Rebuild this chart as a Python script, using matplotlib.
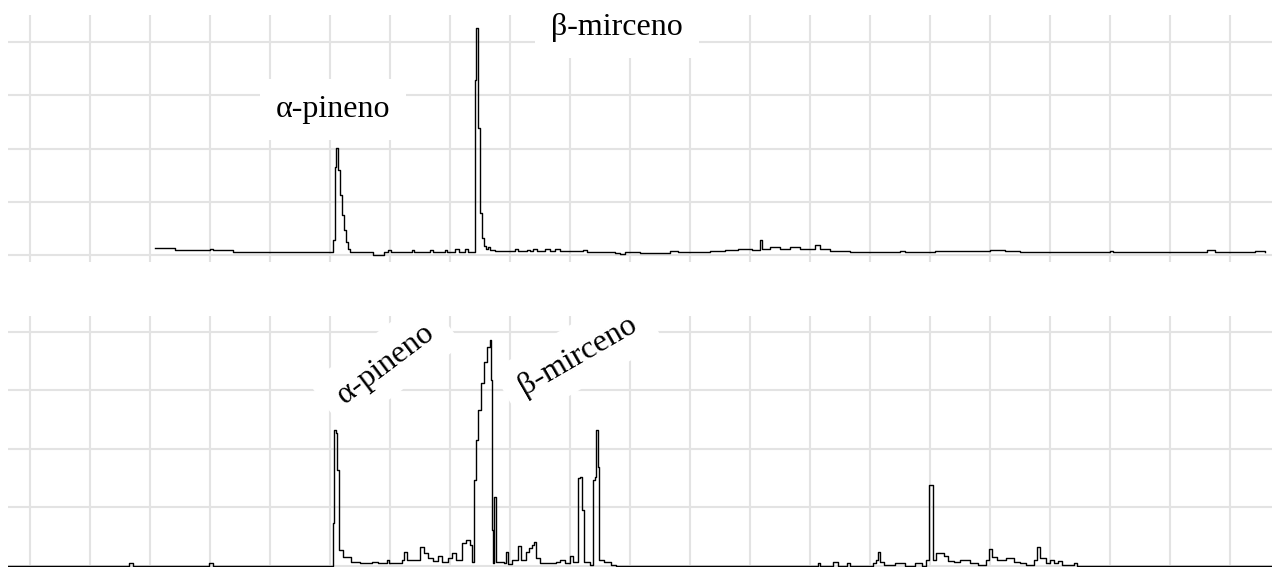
import matplotlib.pyplot as plt

# retention time (min) and intensity (arbitrary units, % of grid)
tiempo_sup = [2.08, 2.42, 3.00, 3.05, 3.38, 5.02, 5.05, 5.08, 5.10, 5.13, 5.17, 5.20,
              5.23, 5.27, 5.30, 5.33, 5.72, 5.90, 5.97, 6.02, 6.37, 6.40, 6.67, 6.72,
              6.92, 6.95, 7.08, 7.15, 7.25, 7.30, 7.38, 7.41, 7.44, 7.47, 7.50, 7.53,
              7.57, 7.60, 7.63, 7.67, 7.75, 8.08, 8.13, 8.28, 8.33, 8.38, 8.45, 8.58,
              8.67, 8.75, 8.83, 9.22, 9.28, 9.67, 9.75, 9.83, 9.92, 10.17, 10.67, 10.80,
              11.33, 11.58, 11.80, 12.03, 12.17, 12.20, 12.33, 12.50, 12.67, 12.83, 13.08,
              13.17, 13.33, 13.67, 14.50, 14.58, 15.08, 16.00, 16.25, 16.50, 18.00, 18.05,
              19.62, 19.75, 20.42, 20.58]
intensidad_sup = [3.3, 2.3, 2.8, 2.3, 1.4, 1.4, 7.0, 41.3, 50.2, 39.9, 28.2, 18.8,
                  11.7, 6.1, 2.8, 1.4, 0.0, 1.4, 2.3, 1.4, 2.3, 1.4, 2.3, 1.4,
                  2.3, 1.4, 2.8, 1.4, 2.8, 1.4, 1.4, 82.2, 106.6, 59.6, 19.7, 8.0,
                  4.2, 2.8, 3.8, 2.3, 1.9, 2.8, 1.9, 2.3, 1.9, 2.8, 1.9, 2.8,
                  1.9, 2.8, 1.9, 2.3, 1.4, 1.4, 0.9, 0.5, 1.4, 0.9, 1.9, 1.4,
                  1.9, 2.3, 2.8, 2.3, 7.0, 2.8, 3.8, 2.8, 3.8, 2.8, 4.7,
                  2.8, 1.9, 1.4, 1.9, 1.4, 1.9, 2.3, 1.9, 1.4, 1.9, 1.4,
                  2.3, 1.4, 1.9, 1.4]

tiempo_inf = [-0.37, 1.65, 1.72, 2.98, 3.05, 5.03, 5.05, 5.07, 5.10, 5.12, 5.15, 5.22,
              5.35, 5.50, 5.70, 5.80, 5.95, 5.98, 6.20, 6.23, 6.28, 6.50, 6.57, 6.63,
              6.72, 6.80, 6.87, 6.97, 7.03, 7.10, 7.20, 7.27, 7.33, 7.37, 7.40, 7.43,
              7.47, 7.52, 7.57, 7.62, 7.67, 7.69, 7.70, 7.72, 7.74, 7.77, 7.90, 7.93,
              7.97, 8.03, 8.13, 8.18, 8.27, 8.32, 8.37, 8.40, 8.43, 8.50, 8.77, 8.83,
              8.92, 9.00, 9.05, 9.13, 9.17, 9.20, 9.23, 9.33, 9.38, 9.42, 9.43, 9.47,
              9.48, 9.57, 9.68, 9.77, 13.13, 13.17, 13.38, 13.47, 13.62, 13.67, 14.05,
              14.10, 14.13, 14.17, 14.23, 14.42, 14.58, 14.75, 14.87, 14.93, 14.98, 15.05,
              15.10, 15.23, 15.30, 15.40, 15.50, 15.67, 15.80, 15.93, 15.98, 16.03, 16.12,
              16.27, 16.40, 16.50, 16.60, 16.73, 16.78, 16.83, 16.93, 17.00, 17.07, 17.13,
              17.20, 17.40, 17.45, 20.70]
intensidad_inf = [0.2, 1.3, 0.2, 1.3, 0.2, 0.2, 18.4, 58.1, 56.8, 41.0, 6.8, 3.8,
                  1.7, 1.3, 1.7, 1.3, 2.6, 1.3, 2.6, 6.0, 2.6, 8.1, 5.6, 3.4,
                  2.1, 4.3, 1.7, 3.4, 5.6, 2.6, 9.8, 11.1, 9.0, 1.7, 36.8, 53.9,
                  66.7, 78.2, 87.2, 93.6, 96.6, 79.5, 15.4, 1.3, 29.5, 1.7, 1.3, 6.0,
                  0.9, 2.6, 8.5, 2.6, 6.0, 7.7, 9.0, 10.3, 3.4, 1.3, 1.7, 2.6,
                  1.3, 4.3, 1.7, 37.6, 38.0, 23.9, 1.7, 0.4, 36.8, 38.0, 58.1, 42.3,
                  2.6, 1.7, 0.4, 0.2, 1.3, 0.2, 1.7, 0.2, 1.3, 0.2, 1.3,
                  2.6, 6.0, 1.7, 0.4, 1.3, 0.2, 1.3, 0.2, 2.6, 34.6, 2.6,
                  5.6, 4.3, 2.1, 1.7, 2.6, 1.3, 0.4, 2.6, 7.3, 3.8, 2.6,
                  3.4, 1.7, 1.3, 0.4, 2.6, 8.1, 3.4, 1.3, 2.6, 1.3, 2.1,
                  0.4, 1.3, 0.2, 0.2]

# label text, position (min, intensity) and rotation for each panel
etiquetas_sup = [("α-pineno", 5.05, 68.1, 0), ("β-mirceno", 9.78, 107.0, 0)]
etiquetas_inf = [("α-pineno", 5.93, 86.3, 37), ("β-mirceno", 9.13, 89.8, 30)]

W, H = 1272, 567
fig = plt.figure(figsize=(W / 100, H / 100), dpi=100)

# axes placed in pixel terms: left 8 px, top panel 15-262 px, bottom panel 316-567 px
ax_sup = fig.add_axes([8 / W, 1 - 262 / H, (W - 8) / W, 247 / H])
ax_inf = fig.add_axes([8 / W, 0, (W - 8) / W, 251 / H])

paneles = [
    (ax_sup, tiempo_sup, intensidad_sup, etiquetas_sup, (-3.3, 112.7)),
    (ax_inf, tiempo_inf, intensidad_inf, etiquetas_inf, (-0.43, 106.8)),
]

for ax, t, y, etiquetas, ylim in paneles:
    ax.plot(t, y, color="black", linewidth=1.0, drawstyle="steps-post", zorder=4)
    ax.set_xlim(-0.367, 20.7)
    ax.set_ylim(*ylim)
    ax.set_xticks(range(0, 21))
    ax.set_yticks([0, 25, 50, 75, 100])
    ax.grid(True, color="#e3e3e3", linewidth=1.5, zorder=0)
    ax.set_axisbelow(True)
    ax.tick_params(length=0, labelbottom=False, labelleft=False)
    for s in ax.spines.values():
        s.set_visible(False)
    for texto, tx, ty, rot in etiquetas:
        ax.text(tx, ty, texto, family="Liberation Serif", fontsize=23,
                ha="center", va="center", rotation=rot, rotation_mode="anchor",
                bbox=dict(boxstyle="square,pad=0.5", facecolor="white", edgecolor="none"),
                zorder=3, clip_on=False)

fig.savefig("out.png", dpi=100)
